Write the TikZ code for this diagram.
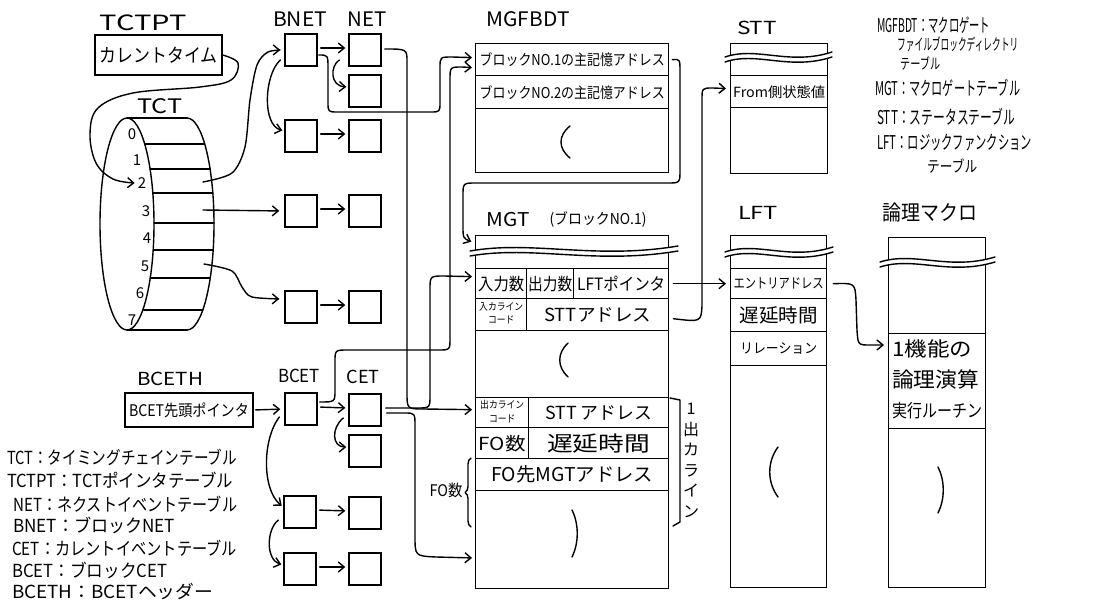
\documentclass[tikz,border=0pt]{standalone}
\usepackage{fontspec}
\setmainfont{Noto Sans CJK JP}
\usetikzlibrary{arrows.meta,calc,decorations.pathreplacing}
\newsavebox\fxb
\newcommand\fx[3]{\sbox\fxb{\fontsize{#2}{#2}\selectfont #3}\pgfmathsetmacro\fxr{#1/\the\wd\fxb}\scalebox{\fxr}[1]{\usebox\fxb}}
\newcommand\wavebreak[3]{%
 \fill[white] (#1,{#3+1}) .. controls ({#1+0.3*(#2-#1)},{#3-10}) and ({#1+0.6*(#2-#1)},{#3+10}) .. (#2,{#3-4}) -- (#2,{#3+1}) .. controls ({#1+0.6*(#2-#1)},{#3+15}) and ({#1+0.3*(#2-#1)},{#3-5}) .. (#1,{#3+6}) -- cycle;
 \draw[ln] (#1,{#3+1}) .. controls ({#1+0.3*(#2-#1)},{#3-10}) and ({#1+0.6*(#2-#1)},{#3+10}) .. (#2,{#3-4});
 \draw[ln] (#1,{#3+6}) .. controls ({#1+0.3*(#2-#1)},{#3-5}) and ({#1+0.6*(#2-#1)},{#3+15}) .. (#2,{#3+1});}
\newcommand\squig[4]{\draw[ln] ({#1+2},#2) .. controls ({#1+#4},{#2+0.3*(#3-#2)}) and ({#1+#4},{#2+0.7*(#3-#2)}) .. ({#1+2},#3);}
\tikzset{
 ln/.style={line width=1.4pt, line cap=round, line join=round},
 arr/.style={ln, -{Straight Barb[length=6pt,width=10pt,line width=1.4pt]}},
 sbox/.style={draw, line width=1.4pt, minimum width=32pt, minimum height=32pt, inner sep=0pt},
 cell/.style={draw, line width=1.4pt, inner sep=0pt, anchor=north west, align=center},
 txt/.style={inner sep=0pt},
}
\begin{document}
\begin{tikzpicture}[x=1pt,y=-1pt]
\useasboundingbox (0,0) rectangle (1096,605);
\fill[white] (0,0) rectangle (1096,605);

% ---------- TCTPT / TCT ----------
\node[txt] (tTCTPT) at (143,23) {\fx{87}{21}{TCTPT}};
\node[draw, line width=1.4pt, minimum width=127pt, minimum height=40pt, inner sep=0pt] (cur) at (158.5,55) {\fx{118}{19}{カレントタイム}};
\node[txt] (tTCT) at (160,106) {\fx{45}{20}{TCT}};

\draw[ln] (127,224) ellipse [x radius=27pt, y radius=106pt];
\draw[ln] (187,118) arc[start angle=90, end angle=-90, x radius=27pt, y radius=106pt];
\draw[ln] (127,118) -- (187,118);
\draw[ln] (127,330) -- (187,330);
\foreach \xx/\yy in {144.7/144,150.1/169,152.8/193,154/223,153.2/250,150.2/278,142.8/310}
  \draw[ln] (\xx,\yy) -- ({\xx+60},\yy);
\foreach \n/\px/\py in {0/132/134,1/137/160,2/142/183,3/146/211,4/147/238,5/145/266,6/140/293,7/132/320}
  \node[txt, font=\fontsize{15}{15}\selectfont] (d\n) at (\px,\py) {\n};
\coordinate (s2) at (203,182);
\coordinate (s3) at (203,210);
\coordinate (s5) at (204,264);
\coordinate (d2w) at ($(d2.west)+(-3,0)$);

% ---------- BNET / NET ----------
\node[txt] (tBNET) at (300,19) {\fx{54}{20}{BNET}};
\node[txt] (tNET) at (367,19) {\fx{39}{20}{NET}};
\node[sbox] (bnet1) at (301,50) {};
\node[sbox] (net1) at (365,50) {};
\node[sbox] (net1b) at (365,91) {};
\node[sbox] (bnet2) at (301,136) {};
\node[sbox] (net2) at (365,136) {};
\node[sbox] (bnet3) at (301,211) {};
\node[sbox] (net3) at (365,211) {};
\node[sbox] (bnet4) at (301,307) {};
\node[sbox] (net4) at (365,307) {};

% ---------- BCETH / BCET / CET ----------
\node[txt] (tBCETH) at (170,379) {\fx{66}{18}{BCETH}};
\node[draw, line width=1.4pt, minimum width=128pt, minimum height=34pt, inner sep=0pt] (bceth) at (189,410) {\fx{120}{16}{BCET先頭ポインタ}};
\node[txt] (tBCET) at (299,376) {\fx{42}{18}{BCET}};
\node[txt] (tCET) at (363,377) {\fx{33}{18}{CET}};
\node[sbox] (bcet1) at (301,409) {};
\node[sbox] (cet1) at (365,410) {};
\node[sbox] (cet1b) at (365,451) {};
\node[sbox] (bcet2) at (300,512) {};
\node[sbox] (cet2) at (365,513) {};
\node[sbox] (bcet3) at (300,569) {};
\node[sbox] (cet3) at (365,569) {};

% ---------- MGFBDT ----------
\node[txt] (tMGFBDT) at (528,19) {\fx{83}{20}{MGFBDT}};
\node[cell, minimum width=193pt, minimum height=129pt] (mgfbdt) at (475,43) {};
\node[cell, minimum width=193pt, minimum height=32pt] (mgf1) at (475,43) {\fx{185}{15}{ブロックNO.1の主記憶アドレス}};
\node[cell, minimum width=193pt, minimum height=33pt] (mgf2) at (475,75) {\fx{185}{15}{ブロックNO.2の主記憶アドレス}};
\squig{568}{126}{158}{-10}

% ---------- STT ----------
\node[txt] (tSTT) at (757,28) {\fx{40}{18}{STT}};
\node[cell, minimum width=97pt, minimum height=130pt] (stt) at (730,43) {};
\node[cell, minimum width=97pt, minimum height=32pt] (st1) at (730,75) {\fx{92}{14}{From側状態値}};

% ---------- MGT ----------
\node[txt] (tMGT) at (508,220) {\fx{43}{19}{MGT}};
\node[txt] (tMGTb) at (598,220) {\fx{97}{15}{(ブロックNO.1)}};
\node[cell, minimum width=193pt, minimum height=353pt] (mgt) at (475,235) {};
\node[cell, minimum width=51pt, minimum height=30pt] (mi1) at (475,268) {\fx{46}{17}{入力数}};
\node[cell, minimum width=47pt, minimum height=30pt] (mi2) at (526,268) {\fx{44}{17}{出力数}};
\node[cell, minimum width=95pt, minimum height=30pt] (mi3) at (573,268) {\fx{88}{17}{LFTポインタ}};
\node[cell, minimum width=51pt, minimum height=32pt] (mi4) at (475,298) {\fx{44}{10}{\begin{tabular}{@{}c@{}}入カライン\\[3pt]コード\end{tabular}}};
\node[cell, minimum width=142pt, minimum height=32pt] (mi5) at (526,298) {\fx{107}{18}{STTアドレス}};
\squig{566}{343}{377}{-9}
\node[cell, minimum width=53pt, minimum height=30pt] (mo1) at (475,397) {\fx{44}{10}{\begin{tabular}{@{}c@{}}出カライン\\[3pt]コード\end{tabular}}};
\node[cell, minimum width=140pt, minimum height=30pt] (mo2) at (528,397) {\fx{107}{18}{STT アドレス}};
\node[cell, minimum width=53pt, minimum height=31pt] (mo3) at (475,427) {\fx{47}{18}{FO数}};
\node[cell, minimum width=140pt, minimum height=31pt] (mo4) at (528,427) {\fx{103}{21}{遅延時間}};
\node[cell, minimum width=193pt, minimum height=32pt] (mo5) at (475,458) {\fx{162}{19}{FO先MGTアドレス}};
\squig{570}{510}{557}{9}
\draw[ln, decorate, decoration={brace, amplitude=6pt}] (471,527) -- (471,458);
\node[txt] (tFO) at (446,490) {\fx{33}{16}{FO数}};
\draw[ln] (670,398) -- (680,400) -- (680,522) -- (673,526);
\node[txt, font=\fontsize{16}{20.5}\selectfont] (t1out) at (691,462) {\begin{tabular}{@{}c@{}}1\\出\\カ\\ラ\\イ\\ン\end{tabular}};

% ---------- LFT ----------
\node[txt] (tLFT) at (758,213) {\fx{40}{18}{LFT}};
\node[cell, minimum width=96pt, minimum height=352pt] (lft) at (730,235) {};
\node[cell, minimum width=96pt, minimum height=30pt] (le1) at (730,268) {\fx{90}{14}{エントリアドレス}};
\node[cell, minimum width=96pt, minimum height=33pt] (le2) at (730,298) {\fx{78}{19}{遅延時間}};
\node[cell, minimum width=96pt, minimum height=34pt] (le3) at (730,331) {\fx{77}{14}{リレーション}};
\squig{776}{447}{497}{-9}

% ---------- 論理マクロ ----------
\node[txt] (tLM) at (930,213) {\fx{95}{21}{論理マクロ}};
\node[cell, minimum width=97pt, minimum height=350pt] (lmac) at (888,237) {};
\node[cell, minimum width=97pt, minimum height=95pt, font=\fontsize{20}{30.5}\selectfont] (lm1) at (888,333) {\begin{tabular}{@{}l@{}}\fx{80}{20}{1機能の}\\\fx{87}{21}{論理演算}\\\fx{90}{18}{実行ルーチン}\end{tabular}};
\squig{936}{467}{513}{9}

% ---------- wave breaks ----------
\wavebreak{725}{832}{56}
\wavebreak{470}{678}{250}
\wavebreak{725}{833}{251}
\wavebreak{880}{995}{261}

% ---------- legends ----------
\node[txt, anchor=west] (lr1) at (877,25) {\fx{113}{19}{MGFBDT：マクロゲート}};
\node[txt, anchor=west] (lr2) at (897,44) {\fx{121}{16}{ファイルブロックディレクトリ}};
\node[txt, anchor=west] (lr3) at (900,63) {\fx{40}{15}{テーブル}};
\node[txt, anchor=west] (lr4) at (875,88) {\fx{145}{19}{MGT：マクロゲートテーブル}};
\node[txt, anchor=west] (lr5) at (877,117) {\fx{138}{19}{STT：ステータステーブル}};
\node[txt, anchor=west] (lr6) at (877,143) {\fx{155}{19}{LFT：ロジックファンクション}};
\node[txt, anchor=west] (lr7) at (927,166) {\fx{50}{16}{テーブル}};

\node[txt, anchor=west] (ll1) at (7,457) {\fx{230}{18}{TCT：タイミングチェインテーブル}};
\node[txt, anchor=west] (ll2) at (7,480) {\fx{226}{18}{TCTPT：TCTポインタテーブル}};
\node[txt, anchor=west] (ll3) at (13,504) {\fx{224}{18}{NET：ネクストイベントテーブル}};
\node[txt, anchor=west] (ll4) at (13,525) {\fx{162}{18}{BNET：ブロックNET}};
\node[txt, anchor=west] (ll5) at (12,548) {\fx{225}{18}{CET：カレントイベントテーブル}};
\node[txt, anchor=west] (ll6) at (12,570) {\fx{155}{18}{BCET：ブロックCET}};
\node[txt, anchor=west] (ll7) at (12,592) {\fx{201}{18}{BCETH：BCETヘッダー}};

% ---------- connectors ----------
\draw[arr] plot[smooth, tension=0.6] coordinates {(cur.east) (238,63) (231,80) (200,87) (133,93) (98,108) (90,134) (96,163) (113,179) (d2w)};
\draw[arr, shorten >=4pt] plot[smooth] coordinates {(s2) (232,173) (245,147) (250,100) (257,65) (268,52) (bnet1.west)};
\draw[arr, shorten >=5pt] (s3) -- (bnet3.west);
\draw[arr, shorten >=5pt] plot[smooth] coordinates {(s5) (232,271) (242,287) (252,297) ($(bnet4.west)+(0,-8)$)};

\foreach \a/\b in {bnet1/net1,bnet2/net2,bnet3/net3,bnet4/net4,bcet1/cet1,bcet2/cet2,bcet3/cet3}
  \draw[arr, shorten <=3pt, shorten >=3pt] ($(\a.east)+(0,-2)$) -- ($(\b.west)+(0,-2)$);

\draw[arr, shorten >=2pt] ($(net1.west)+(-9,10)$) .. controls (330,66) and (330,86) .. ($(net1b.west)+(0,-4)$);
\draw[arr, shorten >=2pt] ($(bnet1.west)+(-4,10)$) .. controls (264,75) and (262,125) .. ($(bnet2.west)+(0,-5)$);

\draw[arr, shorten >=3pt] ($(bnet1.east)+(1,5)$) .. controls (328,55) .. (328,68) -- (328,102) .. controls (328,112) .. (338,112) -- (430,112) .. controls (440,112) .. (440,102) -- (440,68) .. controls (440,57) .. (452,57) -- ($(mgf1.west)+(0,-2)$);
\draw[arr, shorten >=3pt] ($(bcet1.east)+(2,-7)$) .. controls (335,402) .. (335,390) -- (335,362) .. controls (335,350) .. (348,350) -- (438,350) .. controls (450,350) .. (450,338) -- (450,80) .. controls (450,67) .. (462,67) -- ($(mgf1.west)+(0,8)$);
\draw[arr, shorten >=3pt] ($(net1.east)+(3,-1)$) .. controls (407,49) .. (407,62) -- (407,392) .. controls (407,409) .. (424,409) -- ($(mo1.west)+(0,-3)$);
\draw[arr, shorten >=3pt] ($(cet1.east)+(4,-2)$) -- (417,408) .. controls (430,408) .. (430,395) -- (430,290) .. controls (430,276) .. (444,276) -- ($(mi1.west)+(0,-7)$);
\draw[arr, shorten >=3pt] ($(cet1.east)+(5,3)$) -- (404,413) .. controls (415,413) .. (415,426) -- (415,536) .. controls (415,556) .. (436,557) -- ($(mgt.north west)+(0,323)$);
\draw[arr, shorten >=3pt] ($(mgf1.east)+(3,0)$) .. controls (680,59) .. (680,72) -- (680,170) .. controls (680,183) .. (667,183) -- (476,183) .. controls (463,183) .. (463,196) -- (463,226) .. controls (463,238) .. ($(mgt.north west)+(-1,8)$);
\draw[arr, shorten <=4pt, shorten >=4pt] (mi3.east) -- (le1.west);
\draw[arr, shorten >=4pt] ($(mi5.east)+(4,4)$) .. controls (701,322) .. (702,306) -- (702,100) .. controls (702,88) .. (713,88) -- ($(st1.west)+(0,-3)$);
\draw[arr, shorten >=4pt] ($(le1.east)+(6,0)$) .. controls (855,283) .. (856,300) -- (857,330) .. controls (858,345) .. (870,345) -- ($(lm1.north west)+(0,12)$);

\draw[arr, shorten <=2pt, shorten >=4pt] (bceth.east) -- (bcet1.west);
\draw[arr, shorten >=2pt] ($(bcet1.west)+(-5,8)$) .. controls (262,440) and (262,490) .. ($(bcet2.west)+(0,-5)$);
\draw[arr, shorten >=2pt] ($(bcet2.west)+(-5,8)$) .. controls (266,530) and (266,560) .. ($(bcet3.west)+(0,-4)$);
\draw[arr, shorten >=2pt] ($(cet1.west)+(-5,8)$) .. controls (331,428) and (332,447) .. ($(cet1b.west)+(0,-4)$);
\end{tikzpicture}
\end{document}
